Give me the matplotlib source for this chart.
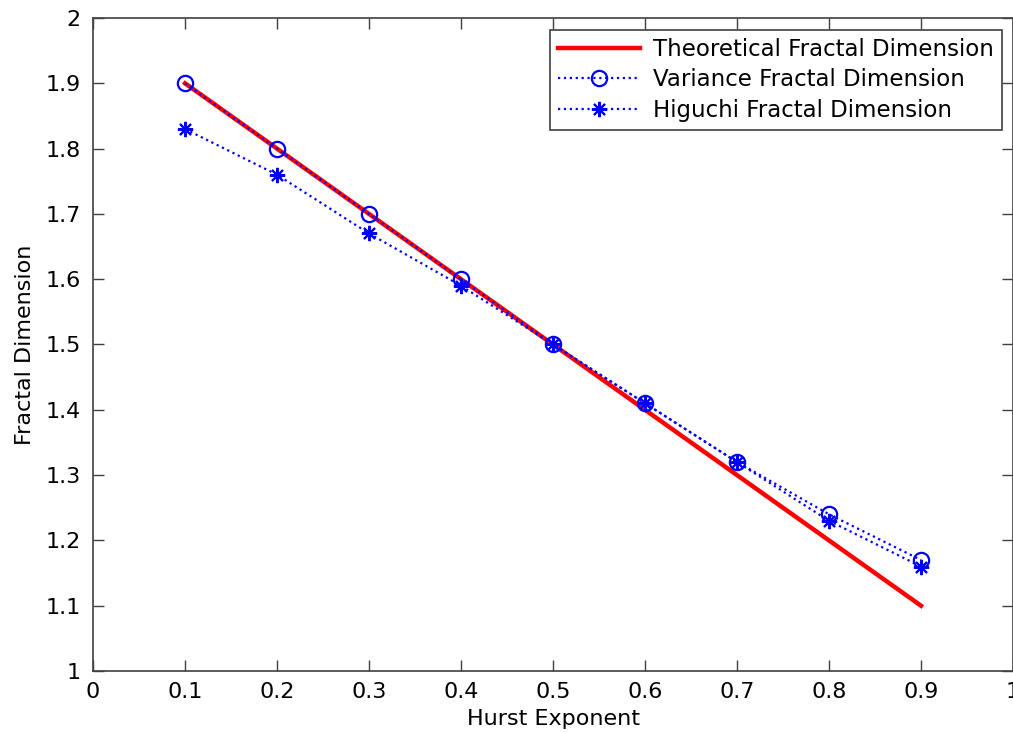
import numpy as np
import matplotlib.pyplot as plt

plt.rcParams['font.family'] = ['DejaVu Sans']

hurst = [0.1, 0.2, 0.3, 0.4, 0.5, 0.6, 0.7, 0.8, 0.9]
theoretical = [1.9, 1.8, 1.7, 1.6, 1.5, 1.4, 1.3, 1.2, 1.1]
variance = [1.9, 1.8, 1.7, 1.6, 1.5, 1.41, 1.32, 1.24, 1.17]
higuchi = [1.83, 1.76, 1.67, 1.59, 1.5, 1.41, 1.32, 1.23, 1.16]

xticks = [0, 0.1, 0.2, 0.3, 0.4, 0.5, 0.6, 0.7, 0.8, 0.9, 1]
yticks = [1, 1.1, 1.2, 1.3, 1.4, 1.5, 1.6, 1.7, 1.8, 1.9, 2]

fig = plt.figure(figsize=(10.13, 7.32), dpi=100)
ax = fig.add_axes([93 / 1013, 1 - 671 / 732, 920 / 1013, (671 - 18) / 732])

ax.plot(hurst, theoretical, color='red', lw=3.2, label='Theoretical Fractal Dimension')
ax.plot(hurst, variance, color='blue', ls=':', lw=1.6, marker='o', ms=11,
        mfc='none', mew=1.6, label='Variance Fractal Dimension')
ax.plot(hurst, higuchi, color='blue', ls=':', lw=1.6, marker=(8, 2, 0), ms=11,
        mew=1.5, label='Higuchi Fractal Dimension')

ax.set_xlim(0, 1)
ax.set_ylim(1, 2)
ax.set_xticks(xticks)
ax.set_xticklabels(['0', '0.1', '0.2', '0.3', '0.4', '0.5', '0.6', '0.7', '0.8', '0.9', '1'])
ax.set_yticks(yticks)
ax.set_yticklabels(['1', '1.1', '1.2', '1.3', '1.4', '1.5', '1.6', '1.7', '1.8', '1.9', '2'])
ax.tick_params(direction='in', top=True, right=True, length=8, width=1,
               color='#404040', labelsize=16)
ax.tick_params(axis='y', pad=9)
ax.tick_params(axis='x', pad=8)
for s in ax.spines.values():
    s.set_color('#404040')
    s.set_linewidth(1.2)

ax.set_xlabel('Hurst Exponent', fontsize=16, labelpad=5)
ax.set_ylabel('Fractal Dimension', fontsize=16, labelpad=7)

leg = ax.legend(loc='upper right', bbox_to_anchor=(0.988, 0.9816), borderaxespad=0,
                fontsize=16.5, fancybox=False, framealpha=1, edgecolor='#404040',
                handlelength=3.6, borderpad=0.35, labelspacing=0.32, handletextpad=0.55)
leg.get_frame().set_linewidth(1.2)

fig.savefig('out.png', dpi=100)
